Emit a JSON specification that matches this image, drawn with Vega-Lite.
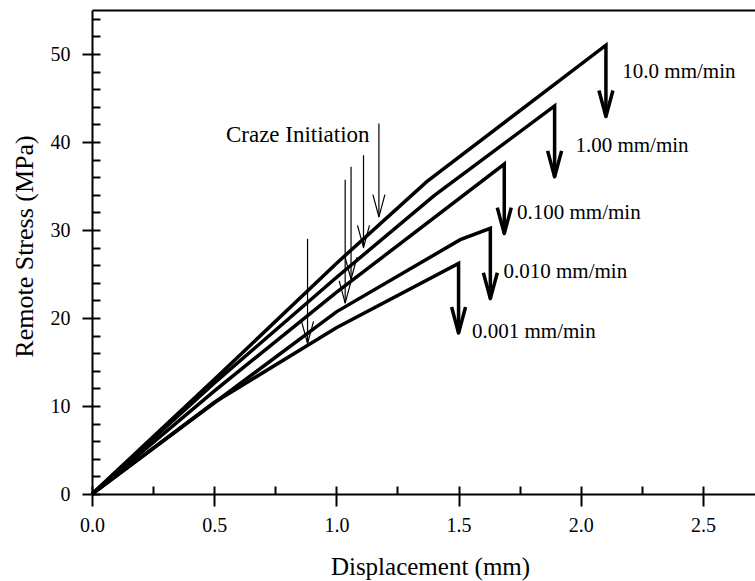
{
  "$schema": "https://vega.github.io/schema/vega-lite/v6.json",
  "width": 663,
  "height": 484,
  "autosize": {"type": "none"},
  "padding": {"left": 92, "top": 10, "right": 0, "bottom": 87},
  "background": "white",
  "config": {"view": {"stroke": null}, "font": "Liberation Serif"},
  "datasets": {
    "curves": [
      {"rate": "10.0", "i": 0, "x": 0, "y": 0},
      {"rate": "10.0", "i": 1, "x": 0.5, "y": 13.0},
      {"rate": "10.0", "i": 2, "x": 1.0, "y": 26.2},
      {"rate": "10.0", "i": 3, "x": 1.37, "y": 35.5},
      {"rate": "10.0", "i": 4, "x": 2.103, "y": 51.0},
      {"rate": "10.0", "i": 5, "x": 2.103, "y": 42.9},
      {"rate": "1.00", "i": 0, "x": 0, "y": 0},
      {"rate": "1.00", "i": 1, "x": 0.5, "y": 12.6},
      {"rate": "1.00", "i": 2, "x": 1.0, "y": 24.6},
      {"rate": "1.00", "i": 3, "x": 1.4, "y": 33.9},
      {"rate": "1.00", "i": 4, "x": 1.893, "y": 44.1},
      {"rate": "1.00", "i": 5, "x": 1.893, "y": 36.05},
      {"rate": "0.100", "i": 0, "x": 0, "y": 0},
      {"rate": "0.100", "i": 1, "x": 0.5, "y": 11.7},
      {"rate": "0.100", "i": 2, "x": 1.0, "y": 22.9},
      {"rate": "0.100", "i": 3, "x": 1.687, "y": 37.5},
      {"rate": "0.100", "i": 4, "x": 1.687, "y": 29.6},
      {"rate": "0.010", "i": 0, "x": 0, "y": 0},
      {"rate": "0.010", "i": 1, "x": 1.0, "y": 20.7},
      {"rate": "0.010", "i": 2, "x": 1.507, "y": 28.9},
      {"rate": "0.010", "i": 3, "x": 1.63, "y": 30.2},
      {"rate": "0.010", "i": 4, "x": 1.63, "y": 22.2},
      {"rate": "0.001", "i": 0, "x": 0, "y": 0},
      {"rate": "0.001", "i": 1, "x": 0.5, "y": 10.4},
      {"rate": "0.001", "i": 2, "x": 1.0, "y": 18.9},
      {"rate": "0.001", "i": 3, "x": 1.5, "y": 26.2},
      {"rate": "0.001", "i": 4, "x": 1.5, "y": 18.3}
    ],
    "drops": [
      {"rate": "10.0", "x": 2.103, "y": 42.9},
      {"rate": "1.00", "x": 1.893, "y": 36.05},
      {"rate": "0.100", "x": 1.687, "y": 29.6},
      {"rate": "0.010", "x": 1.63, "y": 22.2},
      {"rate": "0.001", "x": 1.5, "y": 18.3}
    ],
    "craze": [
      {"x": 0.882, "top": 29.0, "tip": 17.1},
      {"x": 1.036, "top": 35.7, "tip": 21.7},
      {"x": 1.06, "top": 37.2, "tip": 24.4},
      {"x": 1.111, "top": 38.5, "tip": 28.0},
      {"x": 1.174, "top": 42.1, "tip": 31.5}
    ],
    "labels": [
      {"label": "10.0 mm/min", "x": 2.17, "y": 47.3},
      {"label": "1.00 mm/min", "x": 1.978, "y": 38.9},
      {"label": "0.100 mm/min", "x": 1.739, "y": 31.3},
      {"label": "0.010 mm/min", "x": 1.684, "y": 24.5},
      {"label": "0.001 mm/min", "x": 1.555, "y": 17.7}
    ],
    "note": [
      {"label": "Craze Initiation", "x": 0.548, "y": 40.0}
    ]
  },
  "layer": [
    {
      "data": {"name": "curves"},
      "mark": {"type": "line", "stroke": "black", "strokeWidth": 3.5, "strokeJoin": "miter", "strokeCap": "butt"},
      "encoding": {
        "x": {"field": "x", "type": "quantitative", "scale": {"domain": [0, 2.713], "nice": false, "zero": false},
          "axis": {"orient": "bottom", "values": [0, 0.5, 1, 1.5, 2, 2.5], "format": ".1f", "grid": false,
            "tickSize": 12, "tickWidth": 2, "tickColor": "black", "domainColor": "black", "domainWidth": 2,
            "labelFont": "Liberation Serif", "labelFontSize": 20, "labelColor": "black", "labelPadding": 9,
            "labelFlush": false, "labelOverlap": false, "labelBound": false,
            "title": "Displacement (mm)", "titleFont": "Liberation Serif", "titleFontSize": 25, "titleFontWeight": "normal",
            "titleColor": "black", "titleX": 338, "titleY": 80, "titleBaseline": "alphabetic", "titleAnchor": null}},
        "y": {"field": "y", "type": "quantitative", "scale": {"domain": [0, 55], "nice": false, "zero": false},
          "axis": {"orient": "left", "values": [0, 10, 20, 30, 40, 50], "format": "d", "grid": false,
            "tickSize": 10, "tickWidth": 2, "tickColor": "black", "domainColor": "black", "domainWidth": 2,
            "labelFont": "Liberation Serif", "labelFontSize": 20, "labelColor": "black", "labelPadding": 12,
            "labelFlush": false, "labelOverlap": false, "labelBound": false,
            "title": "Remote Stress (MPa)", "titleFont": "Liberation Serif", "titleFontSize": 26, "titleFontWeight": "normal",
            "titleColor": "black", "titleX": -68, "titleY": 236, "titleBaseline": "middle", "titleAngle": -90}},
        "detail": {"field": "rate"},
        "order": {"field": "i", "type": "quantitative"}
      }
    },
    {
      "data": {"name": "drops"},
      "mark": {"type": "point", "shape": "M-1,-3.7L0,0L1,-3.7", "size": 196, "filled": false, "stroke": "black", "strokeWidth": 3.5, "strokeJoin": "round", "opacity": 1},
      "encoding": {
        "x": {"field": "x", "type": "quantitative", "scale": {"domain": [0, 2.713], "nice": false, "zero": false},
          "axis": {"orient": "bottom", "values": [0, 0.25, 0.5, 0.75, 1, 1.25, 1.5, 1.75, 2, 2.25, 2.5], "grid": false,
            "tickSize": -8, "tickWidth": 2, "tickColor": "black", "labels": false, "domain": false, "title": null}},
        "y": {"field": "y", "type": "quantitative", "scale": {"domain": [0, 55], "nice": false, "zero": false},
          "axis": {"orient": "left", "values": [0, 2, 4, 6, 8, 10, 12, 14, 16, 18, 20, 22, 24, 26, 28, 30, 32, 34, 36, 38, 40, 42, 44, 46, 48, 50, 52, 54], "grid": false,
            "tickSize": -8, "tickWidth": 2, "tickColor": "black", "labels": false, "domain": false, "title": null}}
      }
    },
    {
      "data": {"name": "craze"},
      "mark": {"type": "rule", "stroke": "black", "strokeWidth": 1.2},
      "encoding": {
        "x": {"field": "x", "type": "quantitative", "scale": {"domain": [0, 2.713], "nice": false, "zero": false},
          "axis": {"orient": "top", "grid": false, "ticks": false, "labels": false, "domain": true, "domainColor": "black", "domainWidth": 2, "title": null}},
        "y": {"field": "top", "type": "quantitative", "scale": {"domain": [0, 55], "nice": false, "zero": false}, "axis": null},
        "y2": {"field": "tip"}
      }
    },
    {
      "data": {"name": "craze"},
      "mark": {"type": "point", "shape": "M-1,-3.7L0,0L1,-3.7", "size": 144, "filled": false, "stroke": "black", "strokeWidth": 1.2, "strokeJoin": "round", "opacity": 1},
      "encoding": {
        "x": {"field": "x", "type": "quantitative", "scale": {"domain": [0, 2.713], "nice": false, "zero": false}, "axis": null},
        "y": {"field": "tip", "type": "quantitative", "scale": {"domain": [0, 55], "nice": false, "zero": false}, "axis": null}
      }
    },
    {
      "data": {"name": "labels"},
      "mark": {"type": "text", "align": "left", "baseline": "alphabetic", "font": "Liberation Serif", "fontSize": 21, "color": "black"},
      "encoding": {
        "x": {"field": "x", "type": "quantitative", "scale": {"domain": [0, 2.713], "nice": false, "zero": false}, "axis": null},
        "y": {"field": "y", "type": "quantitative", "scale": {"domain": [0, 55], "nice": false, "zero": false}, "axis": null},
        "text": {"field": "label"}
      }
    },
    {
      "data": {"name": "note"},
      "mark": {"type": "text", "align": "left", "baseline": "alphabetic", "font": "Liberation Serif", "fontSize": 23, "color": "black"},
      "encoding": {
        "x": {"field": "x", "type": "quantitative", "scale": {"domain": [0, 2.713], "nice": false, "zero": false}, "axis": null},
        "y": {"field": "y", "type": "quantitative", "scale": {"domain": [0, 55], "nice": false, "zero": false}, "axis": null},
        "text": {"field": "label"}
      }
    }
  ],
  "resolve": {"axis": {"x": "independent", "y": "independent"}}
}
